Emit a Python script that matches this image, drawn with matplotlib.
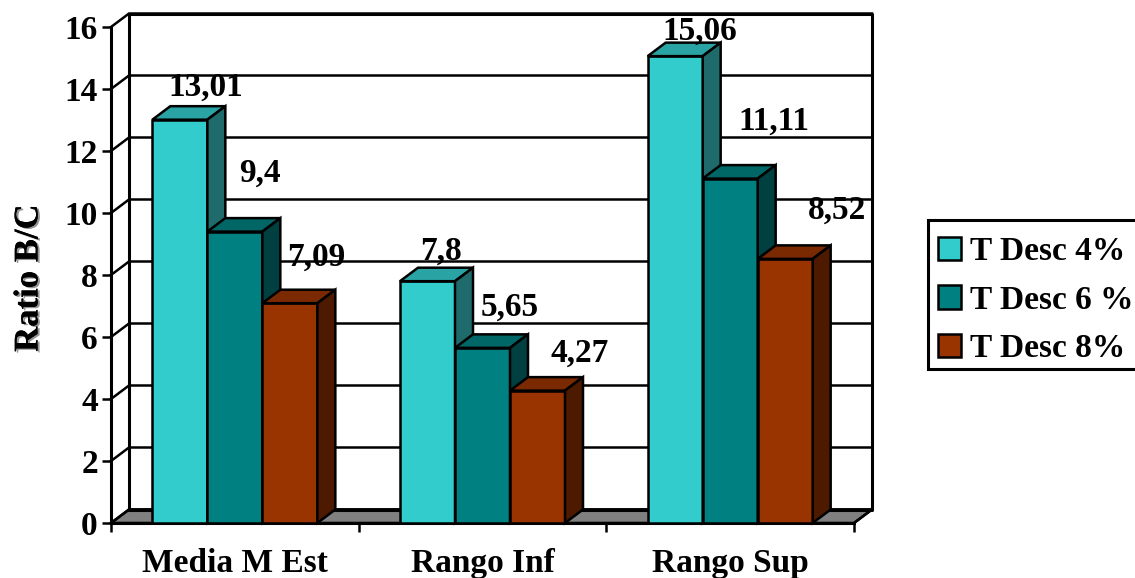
import matplotlib
matplotlib.use('Agg')
import numpy as np
import matplotlib.pyplot as plt
import matplotlib.patheffects as pe
from matplotlib.patches import Patch, Polygon, Rectangle

# Datos
categorias = ['Media M Est', 'Rango Inf', 'Rango Sup']
series = ['T Desc 4%', 'T Desc 6 %', 'T Desc 8%']
t4 = [13.01, 7.8, 15.06]
t6 = [9.4, 5.65, 11.11]
t8 = [7.09, 4.27, 8.52]
valores = [t4, t6, t8]

# Colores: frente, tapa y lateral de cada serie
frente = ['#33CCCC', '#008080', '#993300']
tapa = ['#29A3A3', '#006666', '#7A2900']
lateral = ['#1F6B6B', '#004040', '#4D1A00']

plt.rcParams['font.family'] = ['Liberation Serif', 'DejaVu Serif']
plt.rcParams['font.weight'] = 'bold'
plt.rcParams['font.size'] = 24

fig = plt.figure(figsize=(11.35, 5.78), dpi=100)
ax = fig.add_axes([111 / 1135, 55 / 578, 743 / 1135, 496 / 578])
ax.set_xlim(0, 3)
ax.set_ylim(0, 16)

# Profundidad del efecto 3D en unidades de los ejes
dx = 18 / (743 / 3)
dy = 13.5 / 31
lw = 1.8
ancho = 55 / (743 / 3)

# Piso gris
ax.add_patch(Polygon([(0, 0), (3, 0), (3 + dx, dy), (dx, dy)], closed=True,
                     facecolor='#808080', edgecolor='black', lw=lw,
                     clip_on=False, zorder=1))

# Pared del fondo y lineas de la grilla
for v in range(0, 17, 2):
    ax.plot([0, dx, 3 + dx], [v, v + dy, v + dy], color='black', lw=lw,
            clip_on=False, zorder=1.5, solid_joinstyle='miter')
ax.plot([dx, 3 + dx, 3 + dx, dx, dx], [dy, dy, 16 + dy, 16 + dy, dy],
        color='black', lw=2.2, clip_on=False, zorder=1.5)
ax.plot([3, 3 + dx], [0, dy], color='black', lw=lw, clip_on=False, zorder=1.5)

# Barras, de izquierda a derecha
z = 2
for i in range(3):
    for j in range(3):
        v = valores[j][i]
        x0 = i + 0.5 + (j - 1.5) * ancho
        x1 = x0 + ancho
        ax.bar(x0, v, width=ancho, align='edge', color=frente[j],
               edgecolor='black', lw=lw, zorder=z, clip_on=False)
        ax.add_patch(Polygon([(x0, v), (x1, v), (x1 + dx, v + dy), (x0 + dx, v + dy)],
                             closed=True, facecolor=tapa[j], edgecolor='black',
                             lw=lw, zorder=z, clip_on=False))
        ax.add_patch(Polygon([(x1, 0), (x1 + dx, dy), (x1 + dx, v + dy), (x1, v)],
                             closed=True, facecolor=lateral[j], edgecolor='black',
                             lw=lw, zorder=z, clip_on=False))
        z += 0.1

# Etiquetas de valor, desplazadas en pixeles respecto de cada barra
despl = [[(25.5, 32), (14, 30), (24.5, 25)],
         [(25.5, 58), (27.5, 41), (43.5, 57)],
         [(26.5, 46), (42.5, 37), (52, 49)]]
for j in range(3):
    for i in range(3):
        v = valores[j][i]
        xc = i + 0.5 + (j - 1) * ancho
        ax.annotate(f'{v}'.replace('.', ','), (xc, v), xytext=despl[j][i],
                    textcoords='offset pixels', ha='center', va='center',
                    color='black', zorder=10, annotation_clip=False)

# Ejes
for lado in ['top', 'right']:
    ax.spines[lado].set_visible(False)
for lado in ['left', 'bottom']:
    ax.spines[lado].set_linewidth(2.2)
    ax.spines[lado].set_zorder(1.8)
ax.patch.set_visible(False)
ax.set_yticks(range(0, 17, 2))
ax.set_xticks([0, 1, 2, 3])
ax.set_xticklabels([])
ax.set_xticks([0.5, 1.5, 2.5], labels=categorias, minor=True)
ax.tick_params(axis='y', length=6.5, width=1.8, pad=3)
ax.tick_params(axis='x', which='major', length=6.5, width=1.8)
ax.tick_params(axis='x', which='minor', length=0, pad=18)

# Titulo del eje Y con una sombra leve
ax.set_ylabel('Ratio B/C', fontweight='bold', fontsize=25)
ax.yaxis.label.set_verticalalignment('center')
ax.yaxis.set_label_coords(29 / 1135, 1 - 278 / 578, transform=fig.transFigure)
ax.yaxis.label.set_path_effects([
    pe.withSimplePatchShadow(offset=(1.5, -1), shadow_rgbFace='#777777', alpha=0.8),
    pe.Normal()])

# Recuadro de la leyenda, abierto por la derecha
fig.add_artist(Rectangle((928 / 1135, 1 - 369 / 578), 220 / 1135, 149 / 578,
                         transform=fig.transFigure, facecolor='white',
                         edgecolor='black', lw=2.2))

# Leyenda
handles = [Patch(facecolor=c, edgecolor='black', lw=lw) for c in frente]
leg = fig.legend(handles, series, loc='upper left', frameon=False,
                 bbox_to_anchor=(938 / 1135, 1 - 236 / 578), borderaxespad=0,
                 handlelength=0.69, handleheight=0.69, handletextpad=0.27,
                 labelspacing=0.53, borderpad=0, fontsize=24)
leg.set_zorder(5)

fig.savefig('out.png', dpi=100)
